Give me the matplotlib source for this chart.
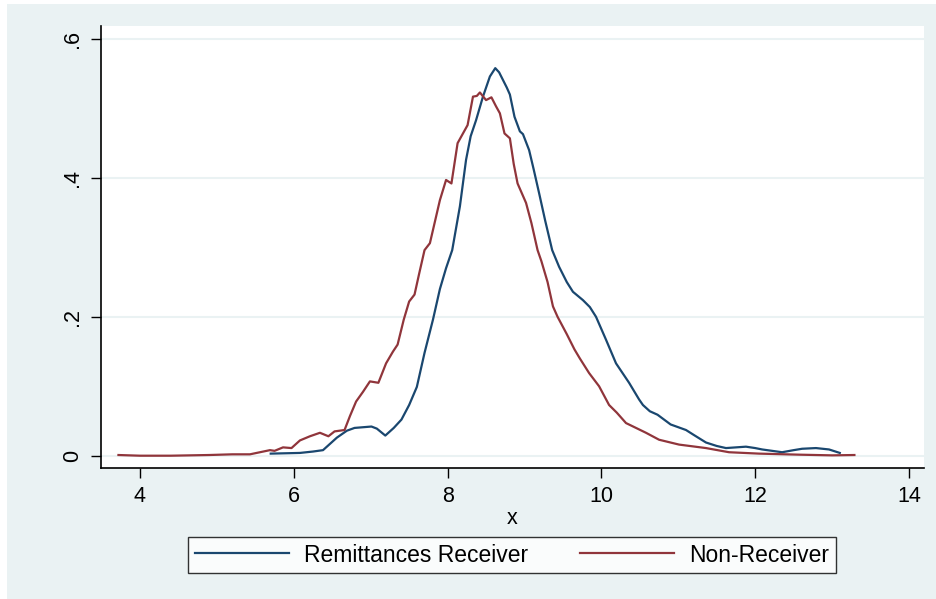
import matplotlib.pyplot as plt
from matplotlib.patches import Rectangle

plt.rcParams['font.family'] = ['Liberation Sans', 'DejaVu Sans']

# Kernel density curves
recv_x = [5.70, 6.08, 6.25, 6.38, 6.48, 6.56, 6.69, 6.79, 6.90, 7.01, 7.08, 7.19, 7.30, 7.40,
          7.50, 7.60, 7.70, 7.81, 7.90, 7.98, 8.06, 8.16, 8.24, 8.30, 8.37, 8.46, 8.55, 8.62,
          8.67, 8.72, 8.77, 8.81, 8.87, 8.94, 8.98, 9.06, 9.12, 9.19, 9.27, 9.36, 9.45, 9.55,
          9.63, 9.76, 9.85, 9.93, 10.06, 10.19, 10.36, 10.49, 10.54, 10.63, 10.73, 10.90, 11.10,
          11.20, 11.36, 11.50, 11.62, 11.75, 11.88, 12.00, 12.09, 12.35, 12.50, 12.61, 12.79,
          12.96, 13.10]
recv_y = [0.003, 0.004, 0.006, 0.008, 0.018, 0.026, 0.036, 0.040, 0.041, 0.042, 0.039, 0.029,
          0.040, 0.052, 0.073, 0.099, 0.148, 0.196, 0.240, 0.270, 0.296, 0.359, 0.426, 0.460,
          0.483, 0.517, 0.546, 0.558, 0.552, 0.541, 0.530, 0.520, 0.488, 0.467, 0.463, 0.440,
          0.412, 0.378, 0.338, 0.296, 0.272, 0.250, 0.236, 0.224, 0.214, 0.200, 0.167, 0.133,
          0.105, 0.081, 0.073, 0.064, 0.059, 0.045, 0.037, 0.030, 0.019, 0.014, 0.011, 0.012,
          0.013, 0.011, 0.009, 0.005, 0.008, 0.010, 0.011, 0.009, 0.004]

non_x = [3.72, 4.00, 4.40, 4.90, 5.20, 5.43, 5.56, 5.69, 5.75, 5.86, 5.97, 6.08, 6.21, 6.34,
         6.45, 6.53, 6.66, 6.73, 6.81, 6.90, 6.99, 7.10, 7.20, 7.29, 7.35, 7.43, 7.50, 7.57,
         7.63, 7.70, 7.77, 7.90, 7.98, 8.05, 8.13, 8.26, 8.33, 8.38, 8.42, 8.50, 8.57, 8.63,
         8.68, 8.74, 8.81, 8.86, 8.91, 9.02, 9.09, 9.17, 9.22, 9.30, 9.37, 9.43, 9.55, 9.65,
         9.72, 9.84, 9.97, 10.10, 10.20, 10.32, 10.45, 10.58, 10.75, 11.01, 11.36, 11.66,
         12.05, 12.57, 13.00, 13.29]
non_y = [0.001, 0.000, 0.000, 0.001, 0.002, 0.002, 0.005, 0.008, 0.007, 0.012, 0.011, 0.022,
         0.028, 0.033, 0.028, 0.035, 0.037, 0.057, 0.078, 0.092, 0.107, 0.105, 0.133, 0.150,
         0.160, 0.196, 0.222, 0.232, 0.262, 0.296, 0.306, 0.368, 0.397, 0.392, 0.450, 0.476,
         0.517, 0.518, 0.523, 0.512, 0.516, 0.503, 0.493, 0.464, 0.457, 0.420, 0.392, 0.364,
         0.335, 0.296, 0.280, 0.250, 0.215, 0.200, 0.175, 0.153, 0.140, 0.119, 0.100, 0.073,
         0.062, 0.047, 0.040, 0.033, 0.023, 0.016, 0.011, 0.005, 0.003, 0.0015, 0.0005, 0.001]

x_ticks = [4, 6, 8, 10, 12, 14]
y_ticks = [0, 0.2, 0.4, 0.6]
y_labels = ['0', '.2', '.4', '.6']
labels = ['Remittances Receiver', 'Non-Receiver']

bg = '#EAF2F3'
fig = plt.figure(figsize=(9.37, 5.99), dpi=100, facecolor='white')
fig.patches.append(Rectangle((7 / 937, 0), 1, 1 - 4 / 599, transform=fig.transFigure,
                             facecolor=bg, edgecolor='none', zorder=-10))

ax = fig.add_axes([101 / 937, 131 / 599, 823 / 937, 442 / 599])
ax.set_facecolor('white')

ax.plot(recv_x, recv_y, color='#1a476f', lw=1.6, label=labels[0])
ax.plot(non_x, non_y, color='#90353b', lw=1.6, label=labels[1])

ax.set_xlim(3.493, 14.195)
ax.set_ylim(-0.0177, 0.6187)
ax.set_xticks(x_ticks)
ax.set_yticks(y_ticks)
ax.set_yticklabels(y_labels, rotation=90, va='center')
ax.grid(axis='y', color=bg, lw=1.5)
ax.set_axisbelow(True)
for s in ['top', 'right']:
    ax.spines[s].set_visible(False)
for s in ['left', 'bottom']:
    ax.spines[s].set_linewidth(1.2)
ax.tick_params(direction='out', length=7, width=1, labelsize=15.5, pad=6)
ax.set_xlabel('x', fontsize=15.5, labelpad=1)

leg = fig.legend(loc='center', bbox_to_anchor=(512 / 937, 44 / 599), ncol=2, fontsize=16.5,
                 handlelength=4.1, handletextpad=0.65, columnspacing=2.3, frameon=True,
                 fancybox=False, borderpad=0.3, borderaxespad=0)
leg.get_frame().set_edgecolor('black')
leg.get_frame().set_linewidth(1.0)

fig.savefig('out.png', dpi=100, facecolor=fig.get_facecolor())
